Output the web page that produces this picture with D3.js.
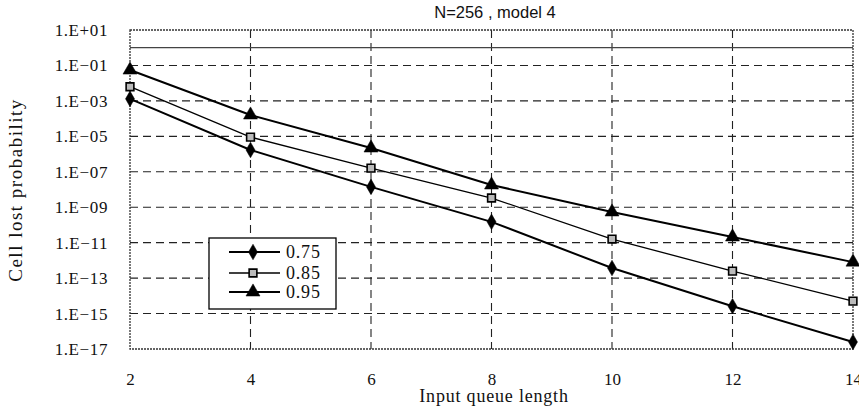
<!DOCTYPE html>
<html>
<head>
<meta charset="utf-8">
<script src="https://cdn.jsdelivr.net/npm/d3@7"></script>
<style>
  body { margin: 0; background: #fff; }
  svg text { fill: #111; }
</style>
</head>
<body>
<div id="chart"></div>
<script>
// queue lengths on the x axis
var queueLength = [2, 4, 6, 8, 10, 12, 14];
// cell loss probability for each load
var load075 = [1.3e-3, 1.7e-6, 1.4e-8, 1.5e-10, 3.7e-13, 2.6e-15, 2.5e-17];
var load085 = [6.3e-3, 9e-6, 1.6e-7, 3.3e-9, 1.6e-11, 2.5e-13, 5e-15];
var load095 = [5.5e-2, 1.6e-4, 2.2e-6, 1.8e-8, 5.4e-10, 2.1e-11, 8e-13];
var seriesNames = ["0.75", "0.85", "0.95"];
var yTicks = [1e1, 1e-1, 1e-3, 1e-5, 1e-7, 1e-9, 1e-11, 1e-13, 1e-15, 1e-17];
var yTickLabels = ["1.E+01", "1.E\u221201", "1.E\u221203", "1.E\u221205", "1.E\u221207",
                   "1.E\u221209", "1.E\u221211", "1.E\u221213", "1.E\u221215", "1.E\u221217"];
var refLine = 1;

var width = 859, height = 407;
var margin = {left: 130, right: 6, top: 30, bottom: 58};
var serif = "'Liberation Serif', 'DejaVu Serif', serif";

var svg = d3.select("#chart").append("svg")
  .attr("width", width)
  .attr("height", height);

var x = d3.scaleLinear().domain([2, 14]).range([margin.left, width - margin.right]);
var y = d3.scaleLog().domain([1e-17, 1e1]).range([height - margin.bottom, margin.top]);

// grid
svg.append("g").selectAll("line.h")
  .data(yTicks.slice(1, -1))
  .enter().append("line")
  .attr("x1", x(2)).attr("x2", x(14))
  .attr("y1", function(d) { return y(d); })
  .attr("y2", function(d) { return y(d); })
  .attr("stroke", "#222").attr("stroke-width", 1.1)
  .attr("stroke-dasharray", "8,5");

svg.append("g").selectAll("line.v")
  .data(queueLength.slice(1, -1))
  .enter().append("line")
  .attr("x1", function(d) { return x(d); })
  .attr("x2", function(d) { return x(d); })
  .attr("y1", y(1e1)).attr("y2", y(1e-17))
  .attr("stroke", "#222").attr("stroke-width", 1.1)
  .attr("stroke-dasharray", "8,5");

// plot frame
svg.append("rect")
  .attr("x", x(2)).attr("y", y(1e1))
  .attr("width", x(14) - x(2)).attr("height", y(1e-17) - y(1e1))
  .attr("fill", "none").attr("stroke", "#333").attr("stroke-width", 1.3)
  .attr("stroke-dasharray", "2,1");

// reference line at 1
svg.append("line")
  .attr("x1", x(2)).attr("x2", x(14))
  .attr("y1", y(refLine)).attr("y2", y(refLine))
  .attr("stroke", "#444").attr("stroke-width", 1.3);

// axes
var yAxis = d3.axisLeft(y).tickValues(yTicks)
  .tickFormat(function(d, i) { return yTickLabels[i]; })
  .tickSize(0).tickPadding(22);
var gy = svg.append("g").attr("transform", "translate(" + margin.left + ",0)").call(yAxis);
gy.select(".domain").remove();
gy.selectAll("text")
  .style("font-family", serif)
  .style("font-size", "17px")
  .style("letter-spacing", "0.6px");

var xAxis = d3.axisBottom(x).tickValues(queueLength).tickSize(0).tickPadding(24);
var gx = svg.append("g").attr("transform", "translate(0," + (height - margin.bottom) + ")").call(xAxis);
gx.select(".domain").remove();
gx.selectAll("text")
  .style("font-family", serif)
  .style("font-size", "17px");

// titles
svg.append("text")
  .attr("x", 495).attr("y", 18)
  .attr("text-anchor", "middle")
  .style("font-family", "'Liberation Sans', Arial, sans-serif")
  .style("font-size", "16.5px")
  .text("N=256 , model 4");

svg.append("text")
  .attr("x", 494).attr("y", 402)
  .attr("text-anchor", "middle")
  .style("font-family", serif)
  .style("font-size", "18px")
  .style("letter-spacing", "0.8px")
  .text("Input queue length");

svg.append("text")
  .attr("transform", "translate(22,190) rotate(-90)")
  .attr("text-anchor", "middle")
  .style("font-family", serif)
  .style("font-size", "19px")
  .style("letter-spacing", "1.5px")
  .text("Cell lost probability");

// series
var series = [
  {name: seriesNames[0], values: load075, symbol: d3.symbolDiamond, size: 70, fill: "#000", width: 2},
  {name: seriesNames[1], values: load085, symbol: d3.symbolSquare, size: 60, fill: "#bbb", width: 1.3},
  {name: seriesNames[2], values: load095, symbol: d3.symbolTriangle, size: 85, fill: "#000", width: 2}
];

var line = d3.line()
  .x(function(d, i) { return x(queueLength[i]); })
  .y(function(d) { return y(d); });

series.forEach(function(s) {
  svg.append("path")
    .datum(s.values)
    .attr("d", line)
    .attr("fill", "none")
    .attr("stroke", "#000")
    .attr("stroke-width", s.width);

  svg.append("g").selectAll("path")
    .data(s.values)
    .enter().append("path")
    .attr("transform", function(d, i) { return "translate(" + x(queueLength[i]) + "," + y(d) + ")"; })
    .attr("d", d3.symbol().type(s.symbol).size(s.size))
    .attr("fill", s.fill)
    .attr("stroke", "#000")
    .attr("stroke-width", s.symbol === d3.symbolSquare ? 1.6 : 0.5);
});

// legend
var legend = svg.append("g").attr("transform", "translate(209,238)");
legend.append("rect")
  .attr("width", 127).attr("height", 71)
  .attr("fill", "#fff").attr("stroke", "#000").attr("stroke-width", 1.3);

var item = legend.selectAll("g.item")
  .data(series)
  .enter().append("g")
  .attr("transform", function(d, i) { return "translate(0," + [14, 35, 54][i] + ")"; });

item.append("line")
  .attr("x1", 20).attr("x2", 71)
  .attr("stroke", "#000")
  .attr("stroke-width", function(d) { return d.width; });

item.append("path")
  .attr("transform", "translate(44,0)")
  .attr("d", function(d) { return d3.symbol().type(d.symbol).size(d.size)(); })
  .attr("fill", function(d) { return d.fill; })
  .attr("stroke", "#000")
  .attr("stroke-width", function(d) { return d.symbol === d3.symbolSquare ? 1.6 : 0.5; });

item.append("text")
  .attr("x", 77).attr("dy", "0.35em")
  .style("font-family", serif)
  .style("font-size", "18px")
  .style("letter-spacing", "0.8px")
  .text(function(d) { return d.name; });
</script>
</body>
</html>
